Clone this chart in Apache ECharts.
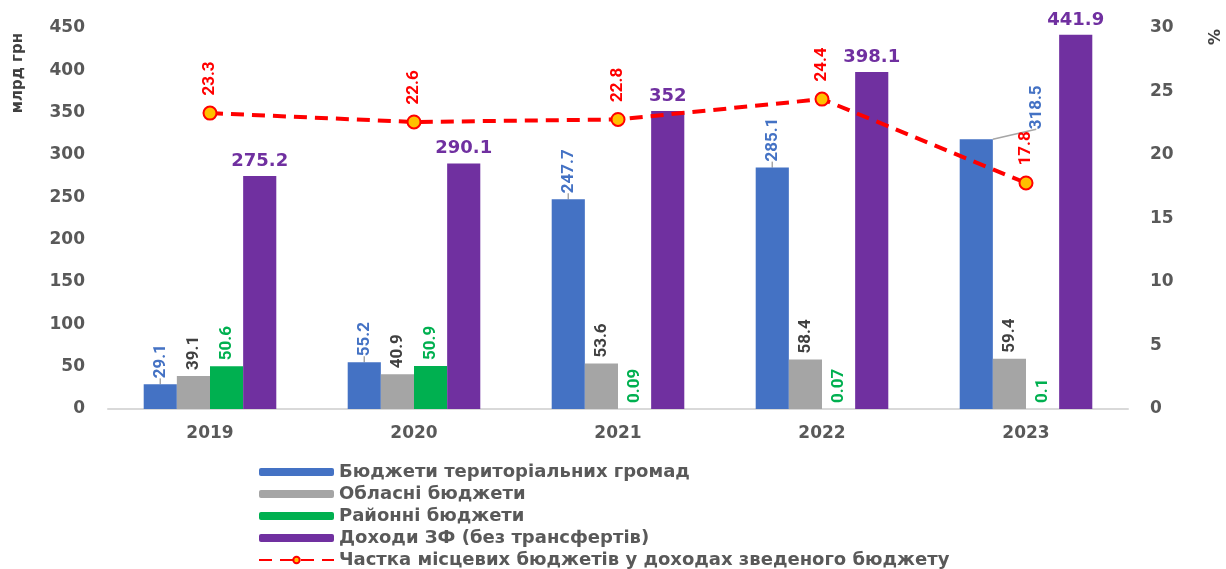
<!DOCTYPE html>
<html><head><meta charset="utf-8">
<script src="https://cdn.jsdelivr.net/npm/echarts@6/dist/echarts.min.js"></script>
<style>html,body{margin:0;padding:0;background:#fff}#c{width:1226px;height:569px}</style>
</head><body><div id="c"></div>
<script>
const categories = ['2019','2020','2021','2022','2023'];
const hromady = [29.1, 55.2, 247.7, 285.1, 318.5];
const oblasni = [39.1, 40.9, 53.6, 58.4, 59.4];
const raionni = [50.6, 50.9, 0.09, 0.07, 0.1];
const dokhody = [275.2, 290.1, 352, 398.1, 441.9];
const chastka = [23.3, 22.6, 22.8, 24.4, 17.8];
const seriesNames = ['Бюджети територіальних громад','Обласні бюджети','Районні бюджети','Доходи ЗФ (без трансфертів)','Частка місцевих бюджетів у доходах зведеного бюджету'];

const numFont = '"Liberation Sans Narrow","Roboto","Liberation Sans",sans-serif';
const txtFont = '"DejaVu Sans","Verdana",sans-serif';
function vlabel(color){
  return {show:true, position:'top', rotate:90, align:'left', verticalAlign:'middle', distance:6,
    color:color, fontFamily:numFont, fontWeight:'bold', fontSize:17};
}
const chart = echarts.init(document.getElementById('c'));
chart.setOption({
  animation:false,
  grid:{left:108, right:98, top:28, bottom:160},
  legend:{orient:'vertical', left:258, top:463, padding:0, itemWidth:75, itemHeight:8, itemGap:4,
    textStyle:{color:'#595959', fontFamily:txtFont, fontWeight:'bold', fontSize:18, lineHeight:18},
    data:seriesNames},
  xAxis:{type:'category', data:categories, axisTick:{show:false},
    axisLine:{lineStyle:{color:'#d9d9d9', width:2}},
    axisLabel:{color:'#595959', fontFamily:txtFont, fontWeight:'bold', fontSize:17, margin:16}},
  yAxis:[
    {type:'value', min:0, max:450, interval:50, splitLine:{show:false},
     axisLabel:{color:'#595959', fontFamily:txtFont, fontWeight:'bold', fontSize:17, margin:23}},
    {type:'value', min:0, max:30, interval:5, splitLine:{show:false},
     axisLabel:{color:'#595959', fontFamily:txtFont, fontWeight:'bold', fontSize:17, margin:22}}
  ],
  graphic:[
    {type:'text', left:11, top:33, rotation:Math.PI/2, style:{text:'млрд грн', fill:'#404040', font:'bold 15px '+txtFont}},
    {type:'text', x:1220, y:29, rotation:-Math.PI/2, style:{text:'%', fill:'#404040', font:'bold 16px '+txtFont}}
  ],
  series:[
    {name:seriesNames[0], type:'bar', data:hromady, barGap:'0%', barCategoryGap:'35%',
     itemStyle:{color:'#4472C4'}, label:vlabel('#4472C4'),
     labelLayout:function(p){ return p.dataIndex===4 ? {dx:4, dy:60} : {}; },
     labelLine:{show:true, lineStyle:{color:'#a6a6a6', width:1.5}}},
    {name:seriesNames[1], type:'bar', data:oblasni, itemStyle:{color:'#A5A5A5'}, label:vlabel('#404040')},
    {name:seriesNames[2], type:'bar', data:raionni, itemStyle:{color:'#00B050'}, label:vlabel('#00B050')},
    {name:seriesNames[3], type:'bar', data:dokhody, itemStyle:{color:'#7030A0'},
     label:{show:true, position:'top', distance:6, color:'#7030A0', fontFamily:txtFont, fontWeight:'bold', fontSize:18}},
    {name:seriesNames[4], type:'line', yAxisIndex:1, data:chastka, symbol:'circle', symbolSize:13,
     lineStyle:{color:'#FF0000', width:4, type:[13,8]},
     itemStyle:{color:'#FFC000', borderColor:'#FF0000', borderWidth:2},
     label:{show:true, position:'top', rotate:90, align:'left', verticalAlign:'middle', distance:10,
       color:'#FF0000', fontFamily:numFont, fontWeight:'bold', fontSize:17}}
  ]
});
</script></body></html>
